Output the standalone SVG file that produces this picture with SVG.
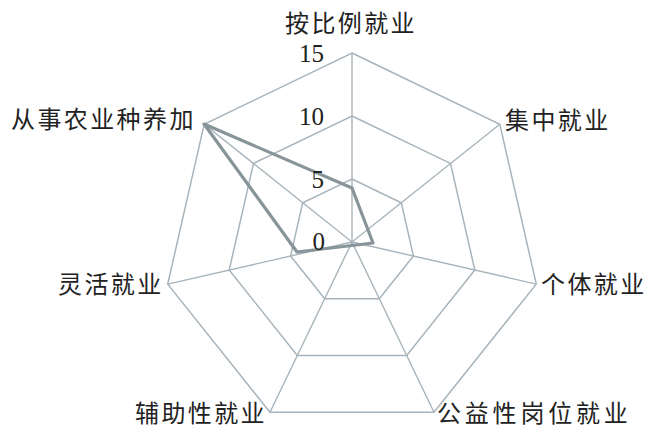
<svg xmlns="http://www.w3.org/2000/svg" width="650" height="429" viewBox="0 0 650 429">
<style>
.grid{fill:none;stroke:#a7b4bb;stroke-width:1.5;stroke-linejoin:miter}
.spoke{stroke:#a7b4bb;stroke-width:1.4}
.data{fill:none;stroke:#87949a;stroke-width:3.2;stroke-linejoin:round}
.lbl{font-family:"Noto Sans CJK SC","Noto Sans",sans-serif;font-size:24px;fill:#222;letter-spacing:2.4px}
.num{font-family:"Liberation Serif",serif;font-size:25px;fill:#222;text-anchor:end}
</style>
<rect width="650" height="429" fill="#fff"/>
<g id="grid">
<polygon class="grid" points="352,53 499.8,124.2 536.3,284.1 434,412.3 270,412.3 167.7,284.1 204.2,124.2"/>
<polygon class="grid" points="352,116 450.5,163.4 474.8,270 406.7,355.5 297.3,355.5 229.2,270 253.5,163.4"/>
<polygon class="grid" points="352,179 401.3,202.7 413.4,256 379.3,298.8 324.7,298.8 290.6,256 302.7,202.7"/>
<line class="spoke" x1="352" y1="242" x2="352" y2="53"/>
<line class="spoke" x1="352" y1="242" x2="499.8" y2="124.2"/>
<line class="spoke" x1="352" y1="242" x2="536.3" y2="284.1"/>
<line class="spoke" x1="352" y1="242" x2="434" y2="412.3"/>
<line class="spoke" x1="352" y1="242" x2="270" y2="412.3"/>
<line class="spoke" x1="352" y1="242" x2="167.7" y2="284.1"/>
<line class="spoke" x1="352" y1="242" x2="204.2" y2="124.2"/>
</g>
<g id="series">
<polygon class="data" points="352,188 373,243 297,252 204,124"/>
</g>
<g id="scale">
<text class="num" x="324" y="62">15</text>
<text class="num" x="324" y="125">10</text>
<text class="num" x="324" y="188">5</text>
<text class="num" x="325" y="250">0</text>
</g>
<g id="axis-0"><text class="lbl" x="285" y="32">按比例就业</text></g>
<g id="axis-1"><text class="lbl" x="505" y="129">集中就业</text></g>
<g id="axis-2"><text class="lbl" x="541" y="293">个体就业</text></g>
<g id="axis-3"><text class="lbl" x="437" y="422" style="letter-spacing:3.8px">公益性岗位就业</text></g>
<g id="axis-4"><text class="lbl" x="135" y="422">辅助性就业</text></g>
<g id="axis-5"><text class="lbl" x="58" y="293">灵活就业</text></g>
<g id="axis-6"><text class="lbl" x="11" y="128">从事农业种养加</text></g>
</svg>
